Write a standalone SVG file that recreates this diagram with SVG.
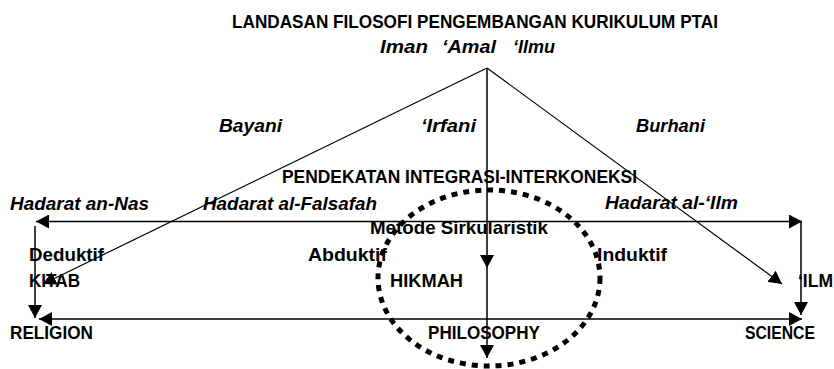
<svg xmlns="http://www.w3.org/2000/svg" width="834" height="369" viewBox="0 0 834 369">
<style>
.t{font-family:"Liberation Sans",Arial,sans-serif;font-weight:bold;font-size:18.5px;fill:#000}
.i{font-style:italic}
.c{fill:none;stroke:#000;stroke-width:1.5}
.d{fill:none;stroke:#000;stroke-width:1.2}
</style>
<defs>
<marker id="ah" viewBox="0 0 13 14" refX="13" refY="7" markerWidth="13" markerHeight="14" markerUnits="userSpaceOnUse" orient="auto-start-reverse"><path d="M0,0 L13,7 L0,14 z" fill="#000"/></marker>
</defs>
<rect width="834" height="369" fill="#fff"/>
<g id="title"><text class="t" x="232" y="28" textLength="486" lengthAdjust="spacingAndGlyphs">LANDASAN FILOSOFI PENGEMBANGAN KURIKULUM PTAI</text></g>
<g id="iman"><text class="t i" y="53"><tspan x="380" textLength="48" lengthAdjust="spacingAndGlyphs">Iman</tspan><tspan x="442" textLength="54" lengthAdjust="spacingAndGlyphs">‘Amal</tspan><tspan x="513" textLength="42" lengthAdjust="spacingAndGlyphs">‘Ilmu</tspan></text></g>
<g id="bayani"><text class="t i" x="219" y="132" textLength="63" lengthAdjust="spacingAndGlyphs">Bayani</text></g>
<g id="irfani"><text class="t i" x="421" y="132" textLength="55" lengthAdjust="spacingAndGlyphs">‘Irfani</text></g>
<g id="burhani"><text class="t i" x="636" y="132" textLength="69" lengthAdjust="spacingAndGlyphs">Burhani</text></g>
<g id="pendekatan"><text class="t" x="282" y="183" textLength="355" lengthAdjust="spacingAndGlyphs">PENDEKATAN INTEGRASI-INTERKONEKSI</text></g>
<g id="nas"><text class="t i" x="10" y="210" textLength="139" lengthAdjust="spacingAndGlyphs">Hadarat an-Nas</text></g>
<g id="falsafah"><text class="t i" x="203" y="210" textLength="174" lengthAdjust="spacingAndGlyphs">Hadarat al-Falsafah</text></g>
<g id="ilm-h"><text class="t i" x="605" y="209" textLength="133" lengthAdjust="spacingAndGlyphs">Hadarat al-‘Ilm</text></g>
<g id="metode"><text class="t" x="370" y="234" textLength="178" lengthAdjust="spacingAndGlyphs">Metode Sirkularistik</text></g>
<g id="deduktif"><text class="t" x="29" y="261" textLength="75" lengthAdjust="spacingAndGlyphs">Deduktif</text></g>
<g id="abduktif"><text class="t" x="308" y="261" textLength="79" lengthAdjust="spacingAndGlyphs">Abduktif</text></g>
<g id="induktif"><text class="t" x="597" y="261" textLength="70" lengthAdjust="spacingAndGlyphs">Induktif</text></g>
<g id="kitab"><text class="t" x="29" y="287" textLength="51" lengthAdjust="spacingAndGlyphs">KITAB</text></g>
<g id="hikmah"><text class="t" x="390" y="287" textLength="73" lengthAdjust="spacingAndGlyphs">HIKMAH</text></g>
<g id="ilm"><text class="t" x="798" y="287" textLength="35" lengthAdjust="spacingAndGlyphs">‘ILM</text></g>
<g id="religion"><text class="t" x="10" y="339" textLength="83" lengthAdjust="spacingAndGlyphs">RELIGION</text></g>
<g id="philosophy"><text class="t" x="428" y="339" textLength="112" lengthAdjust="spacingAndGlyphs">PHILOSOPHY</text></g>
<g id="science"><text class="t" x="745" y="339" textLength="70" lengthAdjust="spacingAndGlyphs">SCIENCE</text></g>
<g id="connectors">
<path class="d" d="M487,68 L43,284" marker-end="url(#ah)"/>
<path class="d" d="M487,68 L782,284" marker-end="url(#ah)"/>
<path class="c" d="M487,68 V268" marker-end="url(#ah)"/>
<path class="c" d="M487,268 V358" marker-end="url(#ah)"/>
<path class="c" d="M36,221.5 H802" marker-start="url(#ah)" marker-end="url(#ah)"/>
<path class="c" d="M35,226 V318" marker-end="url(#ah)"/>
<path class="c" d="M801,221.5 V315" marker-end="url(#ah)"/>
<path class="c" d="M39,319 H802" marker-start="url(#ah)" marker-end="url(#ah)"/>
<ellipse cx="489" cy="278" rx="111" ry="88" fill="none" stroke="#000" stroke-width="5" stroke-dasharray="6 6"/>
</g>
</svg>
